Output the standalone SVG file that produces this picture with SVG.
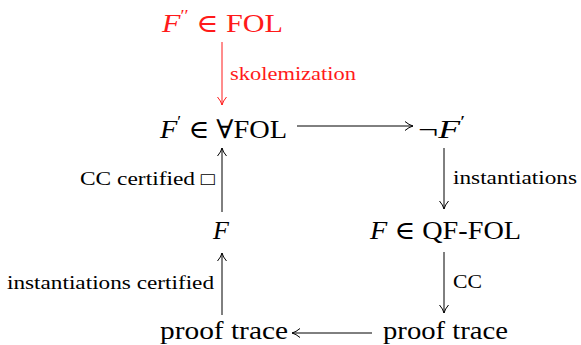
<svg xmlns="http://www.w3.org/2000/svg" width="581" height="345" viewBox="0 0 581 345">
<style>
.m{font-family:"Liberation Serif","DejaVu Serif",serif;font-size:26px;fill:#000}
.l{font-family:"Liberation Serif","DejaVu Serif",serif;font-size:18px;fill:#000}
.i{font-style:italic}
.red{fill:#ff1a1a}
.c{stroke:#000;stroke-width:1;fill:none}
.cr{stroke:#ff1a1a;stroke-width:1;fill:none}
</style>
<defs>
<marker id="ah" markerWidth="12" markerHeight="12" refX="9" refY="6" orient="auto" markerUnits="userSpaceOnUse">
<path d="M1,1.5 Q5,5 9,6 Q5,7 1,10.5" fill="none" stroke="#000" stroke-width="1"/>
</marker>
<marker id="ahr" markerWidth="12" markerHeight="12" refX="9" refY="6" orient="auto" markerUnits="userSpaceOnUse">
<path d="M1,1.5 Q5,5 9,6 Q5,7 1,10.5" fill="none" stroke="#ff1a1a" stroke-width="1"/>
</marker>
</defs>
<g id="connectors">
<line class="cr" x1="222" y1="42" x2="222" y2="105" marker-end="url(#ahr)"/>
<line class="c" x1="297" y1="126" x2="413" y2="126" marker-end="url(#ah)"/>
<line class="c" x1="444" y1="148" x2="444" y2="209" marker-end="url(#ah)"/>
<line class="c" x1="444" y1="252" x2="444" y2="313" marker-end="url(#ah)"/>
<line class="c" x1="372" y1="333" x2="292" y2="333" marker-end="url(#ah)"/>
<line class="c" x1="222" y1="315" x2="222" y2="253" marker-end="url(#ah)"/>
<line class="c" x1="222" y1="212" x2="222" y2="148" marker-end="url(#ah)"/>
<text class="l red" x="230" y="80" textLength="126" lengthAdjust="spacingAndGlyphs">skolemization</text>
<text class="l" x="453" y="184" textLength="124" lengthAdjust="spacingAndGlyphs">instantiations</text>
<text class="l" x="453" y="288" textLength="29" lengthAdjust="spacingAndGlyphs">CC</text>
<text class="l" x="7" y="289" textLength="207" lengthAdjust="spacingAndGlyphs">instantiations certified</text>
<text class="l" x="80" y="185" textLength="135" lengthAdjust="spacingAndGlyphs">CC certified □</text>
</g>
<g id="n_fol">
<text class="m red" x="162" y="32" textLength="121" lengthAdjust="spacingAndGlyphs"><tspan class="i">F</tspan><tspan font-size="16" dy="-11">′′</tspan><tspan dy="11"> ∈ FOL</tspan></text>
</g>
<g id="n_afol">
<text class="m" x="160" y="138" textLength="127" lengthAdjust="spacingAndGlyphs"><tspan class="i">F</tspan><tspan font-size="16" dy="-11">′</tspan><tspan dy="11"> ∈ ∀FOL</tspan></text>
</g>
<g id="n_neg">
<text class="m" x="418" y="138" textLength="47" lengthAdjust="spacingAndGlyphs">¬<tspan class="i">F</tspan><tspan font-size="16" dy="-11">′</tspan></text>
</g>
<g id="n_f">
<text class="m i" x="221" y="239" text-anchor="middle">F</text>
</g>
<g id="n_qf">
<text class="m" x="370" y="239" textLength="151" lengthAdjust="spacingAndGlyphs"><tspan class="i">F</tspan> ∈ QF-FOL</text>
</g>
<g id="n_pt1">
<text class="m" x="160" y="339" textLength="128" lengthAdjust="spacingAndGlyphs">proof trace</text>
</g>
<g id="n_pt2">
<text class="m" x="383" y="339" textLength="125" lengthAdjust="spacingAndGlyphs">proof trace</text>
</g>
</svg>
